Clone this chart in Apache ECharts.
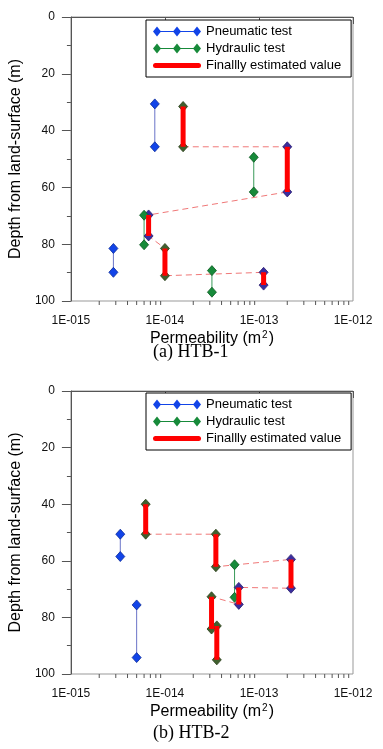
<!DOCTYPE html>
<html>
<head>
<meta charset="utf-8">
<script src="https://cdn.jsdelivr.net/npm/echarts@6/dist/echarts.min.js"></script>
<style>
html,body{margin:0;padding:0;background:#fff;}
#c{width:383px;height:749px;}
</style>
</head>
<body>
<div id="c"></div>
<script>
// ---------- DATA ----------
// HTB-1
const htb1PneuK   = [7.8e-15, 2.0e-13, 6.7e-15, 2.83e-15, 1.12e-13];
const htb1PneuTop = [30.6, 45.7, 69.7, 81.5, 89.9];
const htb1PneuBot = [45.7, 61.6, 77.1, 89.9, 94.4];
const htb1HydK    = [1.56e-14, 8.8e-14, 6.0e-15, 1.0e-14, 3.16e-14];
const htb1HydTop  = [31.5, 49.4, 69.8, 81.5, 89.3];
const htb1HydBot  = [45.7, 61.6, 80.2, 91.1, 96.9];
const htb1FinalK   = [1.56e-14, 2.0e-13, 6.7e-15, 1.0e-14, 1.12e-13];
const htb1FinalTop = [31.5, 45.7, 69.7, 81.5, 89.9];
const htb1FinalBot = [45.7, 61.6, 77.1, 91.1, 94.4];
// HTB-2
const htb2PneuK   = [3.35e-15, 2.19e-13, 6.1e-14, 5.0e-15];
const htb2PneuTop = [50.6, 59.5, 69.4, 75.6];
const htb2PneuBot = [58.5, 69.7, 75.4, 94.2];
const htb2HydK    = [6.24e-15, 3.48e-14, 5.5e-14, 3.13e-14, 3.56e-14];
const htb2HydTop  = [40.0, 50.6, 61.4, 72.7, 83.0];
const htb2HydBot  = [50.6, 62.1, 72.9, 84.1, 95.0];
const htb2FinalK   = [6.24e-15, 3.48e-14, 2.19e-13, 6.1e-14, 3.13e-14, 3.56e-14];
const htb2FinalTop = [40.0, 50.6, 59.5, 69.4, 72.7, 83.0];
const htb2FinalBot = [50.6, 62.1, 69.7, 75.4, 84.1, 95.0];

const depthTicks = [0, 20, 40, 60, 80, 100];
const permTickExponents = [-15, -14, -13, -12];
const captions = ['(a) HTB-1', '(b) HTB-2'];
const PNEU = 'Pneumatic test', HYD = 'Hydraulic test', FIN = 'Finallly estimated value';

// ---------- helpers ----------
const minorVals = [];
[-15, -14, -13].forEach(e => { for (let m = 2; m <= 9; m++) minorVals.push(m * Math.pow(10, e)); });

function isFinal(k, finalK) { return finalK.some(f => Math.abs(f - k) / k < 1e-6); }

const STY = {
  pneu: { fill: '#1244E8', border: '#0A2A9A', line: '#6A74C8' },
  pneuF: { fill: '#3A2E9E', border: '#2A1E70', line: '#6A74C8' },
  hyd: { fill: '#178A3A', border: '#0D5A20', line: '#3A9A5A' },
  hydF: { fill: '#40602E', border: '#2A3E1C', line: '#3A9A5A' }
};

function pairSeries(name, K, top, bot, finalK, gi, kind) {
  return K.map((k, i) => {
    const s = isFinal(k, finalK) ? STY[kind + 'F'] : STY[kind];
    return {
      type: 'line', name: name, xAxisIndex: gi, yAxisIndex: gi,
      data: [[k, top[i]], [k, bot[i]]],
      symbol: 'diamond', symbolSize: [9, 10],
      itemStyle: { color: s.fill, borderColor: s.border, borderWidth: 0.8 },
      lineStyle: { color: s.line, width: 1 },
      z: 3, silent: true, animation: false
    };
  });
}
function finalSeries(K, top, bot, gi) {
  const out = K.map((k, i) => ({
    type: 'line', name: FIN, xAxisIndex: gi, yAxisIndex: gi,
    data: [[k, top[i]], [k, bot[i]]], symbol: 'none',
    itemStyle: { color: '#FF0000' },
    lineStyle: { color: '#FF0000', width: 5 },
    z: 4, silent: true, animation: false
  }));
  const path = [];
  K.forEach((k, i) => { path.push([k, top[i]]); path.push([k, bot[i]]); });
  out.push({
    type: 'line', name: 'connector', xAxisIndex: gi, yAxisIndex: gi,
    data: path, symbol: 'none',
    lineStyle: { color: '#F07878', width: 1, type: [6, 4] },
    z: 2, silent: true, animation: false
  });
  return out;
}
function minorTickSeries(gi) {
  return {
    type: 'custom', xAxisIndex: gi, yAxisIndex: gi, silent: true, clip: false, z: 1,
    data: minorVals.map(v => [v, 100]),
    renderItem: (params, api) => {
      const p = api.coord([api.value(0), 100]);
      return { type: 'line', shape: { x1: p[0], y1: p[1], x2: p[0], y2: p[1] + 4 },
               style: { stroke: '#555', lineWidth: 1 } };
    }
  };
}

const FONT = 'Liberation Sans';
function xAxis(gi) {
  return {
    type: 'log', logBase: 10, gridIndex: gi, min: 1e-15, max: 1e-12,
    name: 'Permeability (m{sup|2})', nameLocation: 'middle', nameGap: 29,
    nameTextStyle: { fontFamily: FONT, fontSize: 16, color: '#000',
      rich: { sup: { fontFamily: FONT, fontSize: 10, color: '#000', verticalAlign: 'top', padding: [0, 1, 7, 1] } } },
    axisLine: { show: true, lineStyle: { color: '#555', width: 1 } },
    axisTick: { show: true, length: 7, lineStyle: { color: '#555' } },
    axisLabel: { margin: 14, fontFamily: FONT, fontSize: 12, color: '#111',
      formatter: v => { const e = Math.round(Math.log10(v)); return permTickExponents.includes(e) ? '1E-' + String(-e).padStart(3, '0') : ''; } },
    splitLine: { show: false }, minorTick: { show: false }
  };
}
function yAxis(gi) {
  return {
    type: 'value', gridIndex: gi, inverse: true, min: 0, max: 100, interval: 20,
    name: 'Depth from land-surface (m)', nameLocation: 'middle', nameGap: 35,
    nameTextStyle: { fontFamily: FONT, fontSize: 16, color: '#000' },
    axisLine: { show: true, lineStyle: { color: '#555', width: 1 } },
    axisTick: { show: true, length: 9, lineStyle: { color: '#555' } },
    minorTick: { show: true, splitNumber: 2, length: 4, lineStyle: { color: '#555' } },
    axisLabel: { margin: 16, fontFamily: FONT, fontSize: 12, color: '#111',
      formatter: v => depthTicks.includes(v) ? String(v) : '' },
    splitLine: { show: false }, minorSplitLine: { show: false }
  };
}
const diamondIcon = 'path://M4,4.5H44V5.5H4Z M0,5L4,0L8,5L4,10Z M20,5L24,0L28,5L24,10Z M40,5L44,0L48,5L44,10Z';
function legend(top) {
  return {
    left: 146, top: top, orient: 'vertical', itemWidth: 48, itemHeight: 10, itemGap: 4,
    padding: [5, 10, 5, 7], backgroundColor: '#fff', borderColor: '#000', borderWidth: 1, borderRadius: 0,
    selectedMode: false, z: 10,
    textStyle: { fontFamily: FONT, fontSize: 13, color: '#000', lineHeight: 13 },
    data: [
      { name: PNEU, icon: diamondIcon, itemStyle: { color: '#1244E8', borderColor: '#1244E8', borderWidth: 0 } },
      { name: HYD, icon: diamondIcon, itemStyle: { color: '#178A3A', borderColor: '#178A3A', borderWidth: 0 } },
      { name: FIN, icon: 'path://M2.5,0H45.5A2.5,2.5,0,0,1,45.5,5H2.5A2.5,2.5,0,0,1,2.5,0Z', itemStyle: { color: '#FF0000', borderWidth: 0 } }
    ]
  };
}

const series = [].concat(
  minorTickSeries(0), minorTickSeries(1),
  pairSeries(PNEU, htb1PneuK, htb1PneuTop, htb1PneuBot, htb1FinalK, 0, 'pneu'),
  pairSeries(HYD, htb1HydK, htb1HydTop, htb1HydBot, htb1FinalK, 0, 'hyd'),
  finalSeries(htb1FinalK, htb1FinalTop, htb1FinalBot, 0),
  pairSeries(PNEU, htb2PneuK, htb2PneuTop, htb2PneuBot, htb2FinalK, 1, 'pneu'),
  pairSeries(HYD, htb2HydK, htb2HydTop, htb2HydBot, htb2FinalK, 1, 'hyd'),
  finalSeries(htb2FinalK, htb2FinalTop, htb2FinalBot, 1)
);

const chart = echarts.init(document.getElementById('c'), null, { renderer: 'canvas' });
chart.setOption({
  animation: false,
  backgroundColor: '#fff',
  title: [
    { text: captions[0], left: 153, top: 343, padding: 0, textStyle: { fontFamily: 'Liberation Serif', fontSize: 18, fontWeight: 'normal', color: '#000' } },
    { text: captions[1], left: 153, top: 724, padding: 0, textStyle: { fontFamily: 'Liberation Serif', fontSize: 18, fontWeight: 'normal', color: '#000' } }
  ],
  grid: [
    { left: 69, top: 17, width: 284, height: 284, show: true, borderColor: '#999', borderWidth: 1, backgroundColor: 'transparent' },
    { left: 69, top: 391, width: 284, height: 283, show: true, borderColor: '#999', borderWidth: 1, backgroundColor: 'transparent' }
  ],
  xAxis: [xAxis(0), xAxis(1)],
  yAxis: [yAxis(0), yAxis(1)],
  legend: [legend(20), legend(393)],
  series: series
});
</script>
</body>
</html>
